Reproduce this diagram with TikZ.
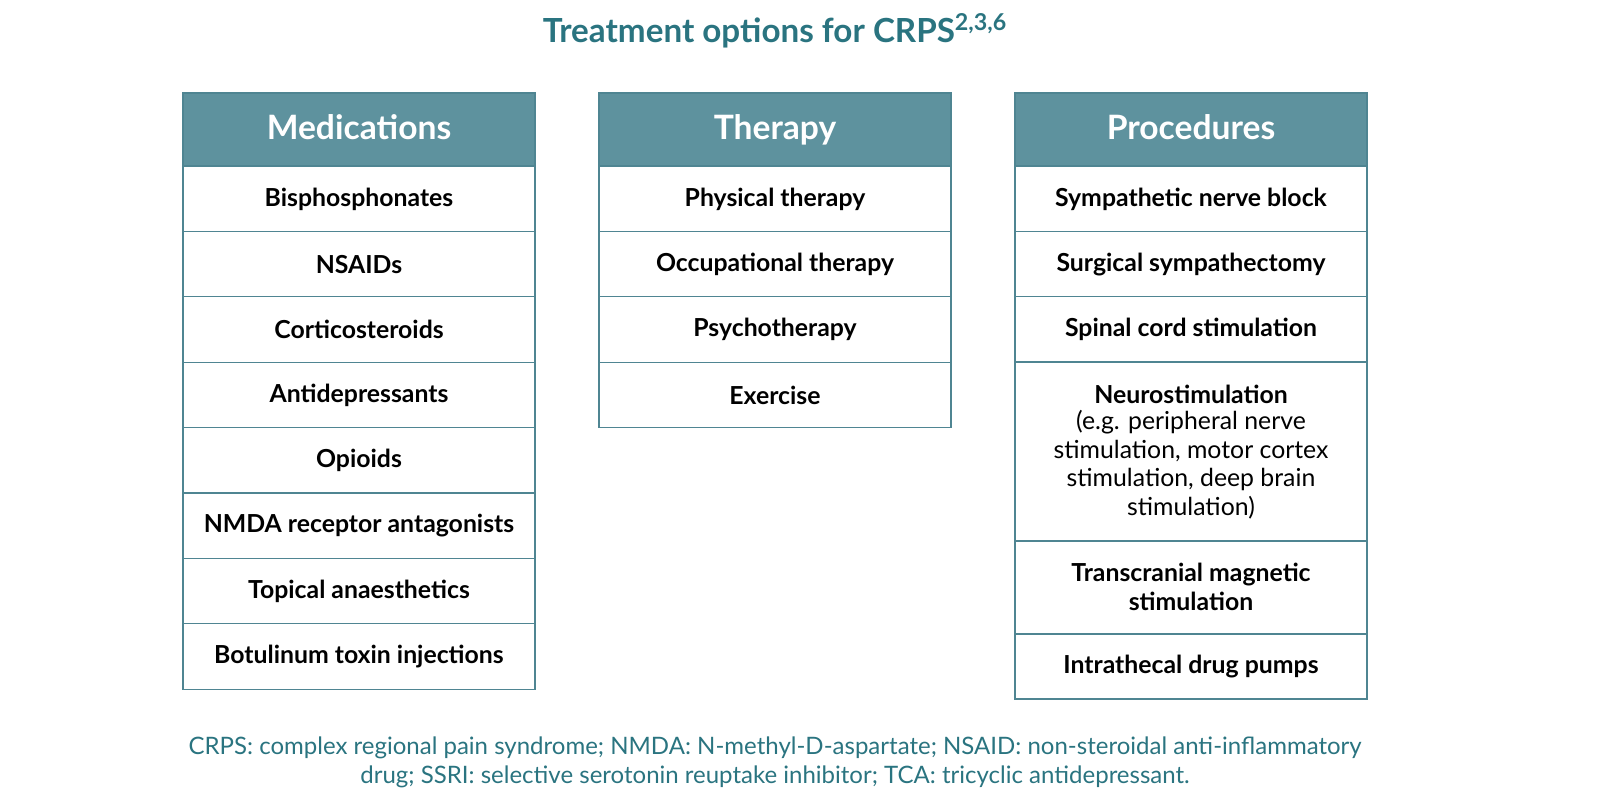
\documentclass[tikz,border=0pt]{standalone}
\usepackage{fontspec}
\setmainfont{Lato}
\definecolor{hdr}{HTML}{5E929E}
\definecolor{teal}{HTML}{2A7480}
\definecolor{ln}{HTML}{4F8592}
\begin{document}
\begin{tikzpicture}[x=0.5pt,y=-0.5pt,
  cell/.style={draw=ln,line width=0.6pt,fill=white},
  head/.style={draw=ln,line width=0.6pt,fill=hdr},
  ct/.style={font=\bfseries\fontsize{12.4}{14.2}\selectfont,align=center,text=black},
  ht/.style={font=\bfseries\fontsize{16.8}{20}\selectfont,text=white,text height=12pt,text depth=3pt}]
\useasboundingbox (0,0) rectangle (1600,812);
\node[font=\bfseries\fontsize{16.6}{20}\selectfont,text=teal] (title) at (775,31) {Treatment options for CRPS\textsuperscript{2,3,6}};
\foreach \x/\h [count=\i] in {183/Medications,599/Therapy,1015/Procedures}{
  \path[head] (\x,93) rectangle ++(352,73);
  \node[ht] (h\i) at (\x+176,131) {\h};
}
\foreach \t [count=\j] in {Bisphosphonates,NSAIDs,Corticosteroids,Antidepressants,Opioids,NMDA receptor antagonists,Topical anaesthetics,Botulinum toxin injections}{
  \path[cell] (183,{166+65.4*(\j-1)}) rectangle ++(352,65.4);
  \node[ct] (m\j) at (359,{199+65.4*(\j-1)}) {\t};
}
\foreach \t [count=\j] in {Physical therapy,Occupational therapy,Psychotherapy,Exercise}{
  \path[cell] (599,{166+65.4*(\j-1)}) rectangle ++(352,65.4);
  \node[ct] (t\j) at (775,{199+65.4*(\j-1)}) {\t};
}
\foreach \t [count=\j] in {Sympathetic nerve block,Surgical sympathectomy,Spinal cord stimulation}{
  \path[cell] (1015,{166+65.4*(\j-1)}) rectangle ++(352,65.4);
  \node[ct] (p\j) at (1191,{199+65.4*(\j-1)}) {\t};
}
\path[cell] (1015,362) rectangle (1367,541);
\node[ct,anchor=north] (p4) at (1191,378) {Neurostimulation\\[-1pt]\mdseries(e.g. peripheral nerve\\\mdseries stimulation, motor cortex\\\mdseries stimulation, deep brain\\\mdseries stimulation)};
\path[cell] (1015,541) rectangle (1367,634);
\node[ct] (p5) at (1191,587) {Transcranial magnetic\\stimulation};
\path[cell] (1015,634) rectangle (1367,699);
\node[ct] (p6) at (1191,667) {Intrathecal drug pumps};
\node[font=\fontsize{12}{14.5}\selectfont,text=teal,align=center] (fn) at (775,762) {CRPS: complex regional pain syndrome; NMDA: N-methyl-D-aspartate; NSAID: non-steroidal anti-inflammatory\\drug; SSRI: selective serotonin reuptake inhibitor; TCA: tricyclic antidepressant.};
\end{tikzpicture}
\end{document}
